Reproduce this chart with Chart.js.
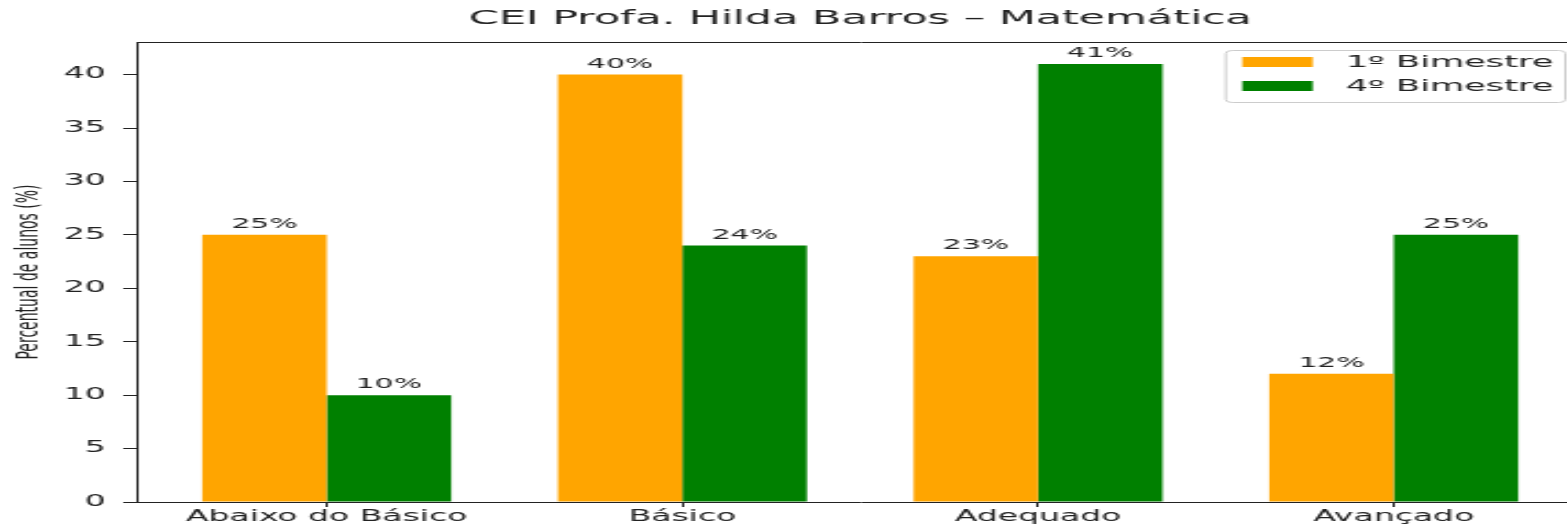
<!DOCTYPE html>
<html>
<head>
<meta charset="utf-8">
<script src="https://cdn.jsdelivr.net/npm/chart.js@4.4.1/dist/chart.umd.min.js"></script>
<style>
  html, body { margin: 0; padding: 0; background: #fff; overflow: hidden; }
  /* the reference is a stretched matplotlib figure, so draw narrow and stretch it */
  #chartContainer { width: 730px; height: 528px; transform: scaleX(2.2); transform-origin: 0 0; }
</style>
</head>
<body>
<div id="chartContainer">
  <canvas id="chart" width="730" height="528"></canvas>
</div>
<script>
const categories = ['Abaixo do Básico', 'Básico', 'Adequado', 'Avançado'];
const bim1 = [25, 40, 23, 12];
const bim4 = [10, 24, 41, 25];
const seriesNames = ['1º Bimestre', '4º Bimestre'];
const yTicks = [0, 5, 10, 15, 20, 25, 30, 35, 40];

const ctx = document.querySelector('#chart');
const ink = '#222';
const font = 'DejaVu Sans';

// percent labels above every bar
const barLabels = {
  id: 'barLabels',
  afterDatasetsDraw(chart) {
    const c = chart.ctx;
    c.save();
    c.font = '13.5px "' + font + '"';
    c.fillStyle = ink;
    c.textAlign = 'center';
    c.textBaseline = 'alphabetic';
    chart.data.datasets.forEach((ds, di) => {
      chart.getDatasetMeta(di).data.forEach((bar, i) => {
        c.fillText(ds.data[i].y + '%', bar.x, bar.y - 7);
      });
    });
    c.restore();
  }
};

// box round the plot + legend in the upper right corner
const frameAndLegend = {
  id: 'frameAndLegend',
  afterDraw(chart) {
    const c = chart.ctx;
    const a = chart.chartArea;
    c.save();
    c.strokeStyle = ink;
    c.lineWidth = 1;
    c.beginPath();
    c.moveTo(Math.round(a.left) + 0.5, Math.round(a.top) + 0.5);
    c.lineTo(Math.round(a.right) + 0.5, Math.round(a.top) + 0.5);
    c.lineTo(Math.round(a.right) + 0.5, Math.round(a.bottom) + 0.5);
    c.stroke();

    c.font = '16px "' + font + '"';
    const dsets = chart.data.datasets;
    let tw = 0;
    dsets.forEach(ds => { tw = Math.max(tw, c.measureText(ds.label).width); });
    const w = 8 + 32 + 15 + tw + 5;
    const h = 52;
    const x = a.right - 9 - w;
    const y = a.top + 8;
    c.fillStyle = 'rgba(255,255,255,0.8)';
    c.strokeStyle = '#cccccc';
    c.beginPath();
    c.roundRect(x + 0.5, y + 0.5, w, h, 3);
    c.fill();
    c.stroke();
    c.textBaseline = 'middle';
    c.textAlign = 'left';
    dsets.forEach((ds, i) => {
      const cy = y + 12 + i * 24;
      c.fillStyle = ds.backgroundColor;
      c.fillRect(x + 8, cy - 5, 32, 10);
      c.fillStyle = ink;
      c.fillText(ds.label, x + 8 + 32 + 15, cy + 1);
    });
    c.restore();
  }
};

const newChart = new Chart(ctx, {
  type: 'bar',
  data: {
    datasets: [{
      label: seriesNames[0],
      data: bim1.map((v, i) => ({x: i, y: v})),
      backgroundColor: '#FFA500',
      borderWidth: 0
    }, {
      label: seriesNames[1],
      data: bim4.map((v, i) => ({x: i, y: v})),
      backgroundColor: '#008000',
      borderWidth: 0
    }]
  },
  options: {
    responsive: false,
    animation: false,
    devicePixelRatio: 1,
    categoryPercentage: 0.7,
    barPercentage: 1.0,
    layout: { padding: { left: 0, right: 10, top: 0, bottom: 0 } },
    plugins: {
      legend: { display: false },
      tooltip: { enabled: false },
      title: {
        display: true,
        text: 'CEI Profa. Hilda Barros – Matemática',
        fullSize: false,
        color: ink,
        font: { family: font, size: 19.5, weight: 'normal' },
        padding: { top: 7.5, bottom: 11.1 }
      }
    },
    scales: {
      x: {
        type: 'linear',
        min: -0.535,
        max: 3.535,
        offset: false,
        afterBuildTicks: (scale) => { scale.ticks = categories.map((c, i) => ({value: i})); },
        afterFit: (scale) => { scale.height = 26; },
        ticks: {
          autoSkip: false,
          maxRotation: 0,
          padding: 1,
          color: ink,
          font: { family: font, size: 15 },
          callback: (v) => categories[v]
        },
        grid: { offset: false, drawOnChartArea: false, drawTicks: true, tickLength: 5, color: ink },
        border: { display: true, color: ink, width: 1 }
      },
      y: {
        min: 0,
        max: 43.05,
        afterBuildTicks: (scale) => { scale.ticks = yTicks.map(v => ({value: v})); },
        afterFit: (scale) => { scale.width = 62; },
        ticks: {
          padding: 8,
          color: ink,
          font: { family: font, size: 15 }
        },
        grid: { drawOnChartArea: false, drawTicks: true, tickLength: 6, color: ink },
        border: { display: true, color: ink, width: 1 },
        title: {
          display: true,
          text: 'Percentual de alunos (%)',
          color: ink,
          font: { family: font, size: 14 },
          padding: { top: 5, bottom: 0 }
        }
      }
    }
  },
  plugins: [barLabels, frameAndLegend]
});
</script>
</body>
</html>
